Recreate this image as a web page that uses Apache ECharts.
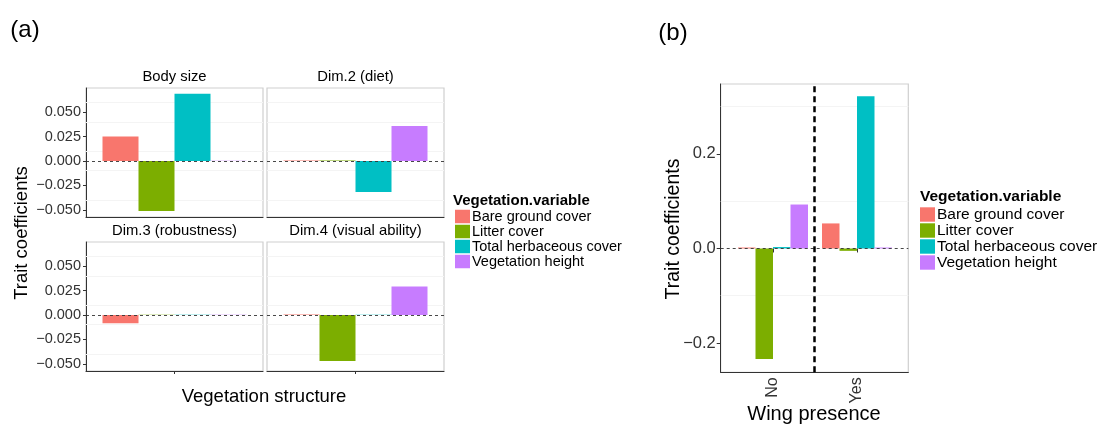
<!DOCTYPE html>
<html><head><meta charset="utf-8">
<script src="https://cdn.jsdelivr.net/npm/echarts@6/dist/echarts.min.js"></script>
<style>html,body{margin:0;padding:0;background:#fff}#c{width:1101px;height:424px}</style>
</head><body><div id="c"></div>
<script>
// ---------- data ----------
const vegVars = ['Bare ground cover', 'Litter cover', 'Total herbaceous cover', 'Vegetation height'];
const vegColors = ['#F8766D', '#7CAE00', '#00BFC4', '#C77CFF'];

// panel (a): one value per trait panel
const traitPanels = ['Body size', 'Dim.2 (diet)', 'Dim.3 (robustness)', 'Dim.4 (visual ability)'];
const bareA   = [0.0249, 0.0004, -0.0085, 0.0004];
const litterA = [-0.0511, 0.0004, 0.0003, -0.0470];
const herbA   = [0.0688, -0.0317, 0.0003, 0.0003];
const heightA = [0.0003, 0.0358, 0.0003, 0.0290];
const ticksA = [-0.05, -0.025, 0, 0.025, 0.05];
const minorA = [-0.0375, -0.0125, 0.0125, 0.0375, 0.0625];
const rangeA = [-0.0573, 0.0746];

// panel (b)
const wingCats = ['No', 'Yes'];
const bareB   = [0.002, 0.053];
const litterB = [-0.234, -0.005];
const herbB   = [0.003, 0.322];
const heightB = [0.093, 0.002];
const ticksB = [-0.2, 0, 0.2];
const minorB = [-0.1, 0.1, 0.3];
const rangeB = [-0.262, 0.348];
const wingDivider = 0.5; // boundary between the two wing categories (frame axis 0..1)

// ---------- build ----------
const FF = "'Liberation Sans', Arial, Helvetica, sans-serif";
const valsA = [bareA, litterA, herbA, heightA];
const valsB = [bareB, litterB, herbB, heightB];
const fmtA = v => (v < 0 ? '\u2212' : '') + Math.abs(v).toFixed(3);
const fmtB = v => (v < 0 ? '\u2212' : '') + Math.abs(v).toFixed(1);

const panelPos = [
  {left: 86, top: 88}, {left: 267, top: 88},
  {left: 86, top: 242}, {left: 267, top: 242}
];
const PW = 177, PH = 129;

const grid = [], xAxis = [], yAxis = [], series = [];
const gridLineStyle = {color: '#f4f4f4', width: 1, type: 'solid'};
const zeroStyle = {color: '#333', width: 0.9, type: [3, 3]};
const borderCol = '#cfcfcf';

function gridMarks(vals, z) {
  return {silent: true, symbol: 'none', z: z, label: {show: false}, emphasis: {disabled: true},
    lineStyle: gridLineStyle, data: vals.map(v => ({yAxis: v}))};
}

traitPanels.forEach((name, p) => {
  const pos = panelPos[p];
  const isLeft = p % 2 === 0;
  const isBottom = p >= 2;
  grid.push({left: pos.left, top: pos.top, width: PW, height: PH, show: true,
    borderColor: borderCol, borderWidth: 1.2, backgroundColor: '#fff', containLabel: false});
  xAxis.push({type: 'category', gridIndex: p, data: [name],
    axisLine: {show: true, onZero: false, lineStyle: {color: '#333', width: 1}},
    axisTick: {show: isBottom, length: 3, alignWithLabel: true, lineStyle: {color: '#333'}},
    axisLabel: {show: false}, splitLine: {show: false}});
  yAxis.push({type: 'value', gridIndex: p, min: rangeA[0], max: rangeA[1],
    axisLine: {show: isLeft, lineStyle: {color: '#333', width: 1}},
    axisTick: {show: isLeft, length: 3, customValues: ticksA, lineStyle: {color: '#333'}},
    axisLabel: {show: isLeft, customValues: ticksA, formatter: fmtA, margin: 5,
      fontSize: 14.5, fontFamily: FF, color: '#333'},
    splitLine: {show: false}});
  vegVars.forEach((vn, v) => {
    const s = {type: 'bar', name: vn, xAxisIndex: p, yAxisIndex: p,
      data: [valsA[v][p]], barWidth: 36, barGap: '0%',
      itemStyle: {color: vegColors[v]}, animation: false};
    if (v === 0) s.markLine = gridMarks(minorA, 1);
    if (v === 1) s.markLine = {silent: true, symbol: 'none', z: 6, label: {show: false},
      emphasis: {disabled: true}, lineStyle: zeroStyle, data: [{yAxis: 0}]};
    series.push(s);
  });
});

// panel (b): frame grid (index 4) + bar grid (index 5)
const FR = {left: 720.7, top: 84, width: 187.6, height: 288.3};
grid.push({left: FR.left, top: FR.top, width: FR.width, height: FR.height, show: true,
  borderColor: borderCol, borderWidth: 1.2, backgroundColor: '#fff'});
grid.push({left: 731, top: FR.top, width: 168, height: FR.height, show: false});
xAxis.push({type: 'value', gridIndex: 4, min: 0, max: 1,
  axisLine: {show: true, onZero: false, lineStyle: {color: '#333', width: 1}},
  axisTick: {show: false}, axisLabel: {show: false}, splitLine: {show: false}});
yAxis.push({type: 'value', gridIndex: 4, min: rangeB[0], max: rangeB[1],
  axisLine: {show: true, lineStyle: {color: '#333', width: 1}},
  axisTick: {show: true, length: 4, customValues: ticksB, lineStyle: {color: '#333'}},
  axisLabel: {show: true, customValues: ticksB, formatter: fmtB, margin: 5,
    fontSize: 16.5, fontFamily: FF, color: '#333'},
  splitLine: {show: false}});
xAxis.push({type: 'category', gridIndex: 5, data: wingCats,
  axisLine: {show: false},
  axisTick: {show: true, length: 4, alignWithLabel: true, lineStyle: {color: '#333'}},
  axisLabel: {show: true, rotate: 90, margin: 5, fontSize: 16, fontFamily: FF, color: '#333'},
  splitLine: {show: false}});
yAxis.push({type: 'value', gridIndex: 5, min: rangeB[0], max: rangeB[1], show: false,
  splitLine: {show: false}});

series.push({type: 'line', xAxisIndex: 4, yAxisIndex: 4, data: [], animation: false,
  markLine: gridMarks(minorB, 1)});
series.push({type: 'line', xAxisIndex: 4, yAxisIndex: 4, data: [], animation: false,
  markLine: {silent: true, symbol: 'none', z: 6, label: {show: false}, emphasis: {disabled: true},
    data: [
      {yAxis: 0, lineStyle: zeroStyle},
      {xAxis: wingDivider, lineStyle: {color: '#000', width: 2.5, type: [6, 4]}}
    ]}});
vegVars.forEach((vn, v) => {
  series.push({type: 'bar', name: vn, xAxisIndex: 5, yAxisIndex: 5, data: valsB[v],
    barWidth: 17.5, barGap: '0%', itemStyle: {color: vegColors[v]}, animation: false});
});

function txt(text, x, y, size, opts) {
  opts = opts || {};
  return {type: 'text', x: x, y: y, rotation: opts.rot || 0, z: 10,
    style: {text: text, fontSize: size, fontFamily: opts.ff || FF, fontWeight: opts.bold ? 'bold' : 'normal',
      fill: '#000', align: opts.align || 'center', verticalAlign: 'middle',
      textAlign: opts.align || 'center', textVerticalAlign: 'middle'}};
}

const graphic = [
  txt('(a)', 25, 30, 24),
  txt('(b)', 673, 33, 24),
  txt(traitPanels[0], 174.5, 77, 14.8),
  txt(traitPanels[1], 355.5, 77, 14.8),
  txt(traitPanels[2], 174.5, 231, 14.8),
  txt(traitPanels[3], 355.5, 231, 14.8),
  txt('Trait coefficients', 22, 233, 18.5, {rot: Math.PI / 2}),
  txt('Vegetation structure', 264, 397, 18.5),
  txt('Trait coefficients', 674, 229, 19.5, {rot: Math.PI / 2}),
  txt('Wing presence', 814, 414, 20),
  txt('Vegetation.variable', 453, 201, 15, {bold: true, align: 'left'}),
  txt('Vegetation.variable', 920, 197, 15.5, {bold: true, align: 'left'})
];

const legendBase = {data: vegVars, orient: 'vertical', itemGap: 0, icon: 'rect', padding: 0,
  itemWidth: 15, selectedMode: false};
const legend = [
  Object.assign({}, legendBase, {left: 455, top: 209, itemHeight: 13.5,
    textStyle: {fontSize: 14.5, fontFamily: FF, color: '#000', lineHeight: 13.5, padding: [0, 0, 0, -3]}}),
  Object.assign({}, legendBase, {left: 920, top: 206.5, itemHeight: 14.4,
    textStyle: {fontSize: 15.5, fontFamily: FF, color: '#000', lineHeight: 14.4, padding: [0, 0, 0, -3]}})
];

const chart = echarts.init(document.getElementById('c'), null, {renderer: 'canvas'});
chart.setOption({animation: false, backgroundColor: '#fff', grid, xAxis, yAxis, series, legend, graphic});
</script>
</body></html>
